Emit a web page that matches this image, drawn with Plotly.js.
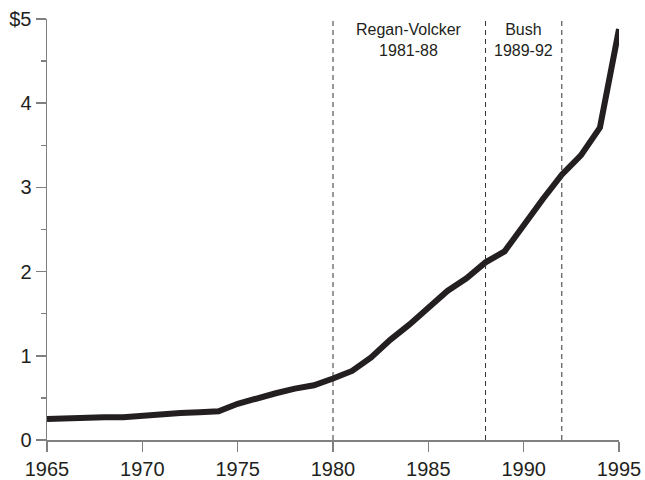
<!DOCTYPE html>
<html>
<head>
<meta charset="utf-8">
<script src="https://cdn.plot.ly/plotly-3.0.1.min.js"></script>
<style>html,body{margin:0;padding:0;background:#fff;}#chart{width:645px;height:480px;}</style>
</head>
<body>
<div id="chart"></div>
<script>
const years = [1965,1966,1967,1968,1969,1970,1971,1972,1973,1974,1975,1976,1977,1978,1979,1980,1981,1982,1983,1984,1985,1986,1987,1988,1989,1990,1991,1992,1993,1994,1995];
const values = [0.25,0.26,0.26,0.27,0.27,0.29,0.31,0.32,0.33,0.34,0.43,0.50,0.555,0.61,0.65,0.73,0.82,0.98,1.19,1.37,1.57,1.77,1.92,2.11,2.24,2.56,2.86,3.15,3.38,3.71,4.88];
const periodLines = [1980,1988,1992];
const periodLabels = ["Regan-Volcker<br>1981-88","Bush<br>1989-92"];
const periodLabelX = [1984,1990];
const xTickVals = [1965,1970,1975,1980,1985,1990,1995];
const xTickText = ["1965","1970","1975","1980","1985","1990","1995"];
const yTickVals = [0,1,2,3,4,5];
const yTickText = ["0","1","2","3","4","$5"];

const font = "Liberation Sans, Arial, Helvetica, sans-serif";
const axisColor = "#808080";

const shapes = periodLines.map(x => ({
  type:"line", xref:"x", yref:"y", x0:x, x1:x, y0:0, y1:5,
  line:{color:"#333", width:1, dash:"5px,4px"}
}));
const annotations = periodLabels.map((t,i) => ({
  x: periodLabelX[i], xref:"x", y:1, yref:"paper", yanchor:"top", xanchor:"center",
  text:t, showarrow:false, font:{family:font, size:16, color:"#231f20"}
}));

Plotly.newPlot("chart", [{
  x: years, y: values, type:"scatter", mode:"lines",
  line:{color:"#231f20", width:6}, hoverinfo:"skip"
}], {
  width:645, height:480,
  margin:{l:47, r:26, t:19, b:40},
  paper_bgcolor:"#fff", plot_bgcolor:"#fff",
  showlegend:false,
  font:{family:font, color:"#231f20"},
  xaxis:{range:[1965,1995], showgrid:false, zeroline:false, showline:true, linecolor:axisColor, linewidth:1.5,
    ticks:"outside", ticklen:10, tickcolor:axisColor, tickwidth:1.5,
    tickvals:xTickVals, ticktext:xTickText, tickfont:{family:font, size:20, color:"#231f20"}},
  yaxis:{range:[0,5], showgrid:false, zeroline:false, showline:true, linecolor:axisColor, linewidth:1.5,
    ticks:"outside", ticklen:10, tickcolor:axisColor, tickwidth:1.5,
    tickvals:yTickVals, ticktext:yTickText, tickfont:{family:font, size:20, color:"#231f20"},
    minor:{dtick:0.5, ticks:"outside", ticklen:5, tickcolor:axisColor, tickwidth:1.5, showgrid:false}},
  shapes: shapes,
  annotations: annotations
}, {staticPlot:true});
</script>
</body>
</html>
